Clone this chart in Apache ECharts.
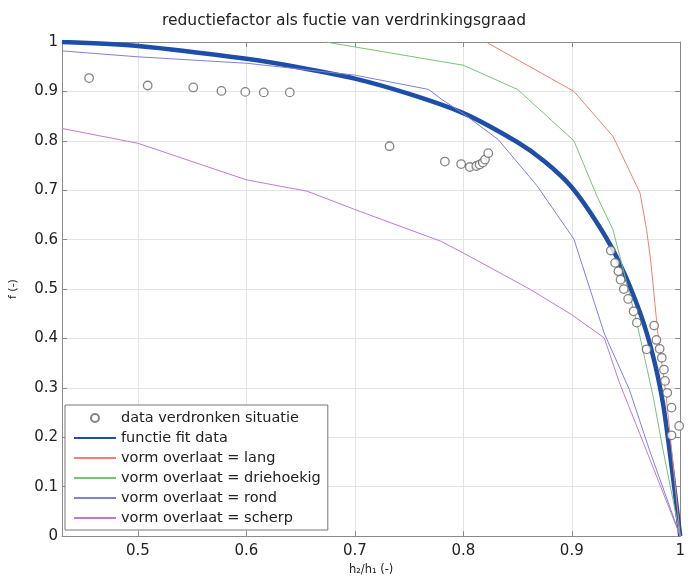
<!DOCTYPE html>
<html>
<head>
<meta charset="utf-8">
<script src="https://cdn.jsdelivr.net/npm/echarts@6/dist/echarts.min.js"></script>
<style>
  html, body { margin: 0; padding: 0; background: #fff; }
  #chart { width: 688px; height: 581px; }
</style>
</head>
<body>
<div id="chart"></div>
<script>
// Measured points: reduction factor f against submergence ratio h2/h1
const dataVerdronken = [
  [0.455, 0.927], [0.509, 0.912], [0.551, 0.908], [0.577, 0.901], [0.599, 0.899],
  [0.616, 0.898], [0.640, 0.898],
  [0.732, 0.789], [0.783, 0.758], [0.798, 0.753], [0.806, 0.747], [0.812, 0.749],
  [0.815, 0.752], [0.818, 0.756], [0.820, 0.762], [0.823, 0.775],
  [0.936, 0.578], [0.940, 0.553], [0.943, 0.536], [0.945, 0.519], [0.948, 0.500],
  [0.952, 0.480], [0.957, 0.455], [0.960, 0.432], [0.969, 0.378], [0.976, 0.426],
  [0.978, 0.397], [0.981, 0.379], [0.983, 0.361], [0.985, 0.337], [0.986, 0.314],
  [0.988, 0.290], [0.992, 0.260], [0.999, 0.223], [0.992, 0.204]
];

// Fitted curve through the measurements
const functieFit = [
  [0.43, 1.0], [0.5, 0.992], [0.6, 0.966], [0.65, 0.948], [0.7, 0.926], [0.75, 0.895],
  [0.8, 0.856], [0.85, 0.797], [0.875, 0.758], [0.9, 0.706], [0.925, 0.628], [0.944, 0.553],
  [0.963, 0.452], [0.975, 0.364], [0.984, 0.27], [0.99, 0.176], [0.995, 0.09], [1.0, 0.0]
];

// Weir shape curves
const vormLang = [
  [0.821, 1.0], [0.902, 0.900], [0.938, 0.809], [0.963, 0.694], [0.969, 0.620],
  [0.973, 0.553], [0.979, 0.418], [0.987, 0.283], [0.992, 0.176], [1.0, 0.0]
];
const vormDriehoekig = [
  [0.673, 1.0], [0.8, 0.953], [0.85, 0.904], [0.902, 0.800], [0.923, 0.689],
  [0.938, 0.620], [0.960, 0.432], [0.975, 0.283], [0.984, 0.176], [1.0, 0.0]
];
const vormRond = [
  [0.43, 0.982], [0.5, 0.970], [0.6, 0.957], [0.7, 0.933], [0.768, 0.904], [0.78, 0.884],
  [0.8, 0.855], [0.832, 0.803], [0.868, 0.709], [0.902, 0.601], [0.93, 0.41],
  [0.953, 0.297], [0.972, 0.172], [1.0, 0.0]
];
const vormScherp = [
  [0.43, 0.825], [0.5, 0.795], [0.6, 0.721], [0.656, 0.698], [0.7, 0.661], [0.779, 0.597],
  [0.8, 0.573], [0.862, 0.499], [0.9, 0.448], [0.93, 0.401], [0.944, 0.31],
  [0.966, 0.189], [1.0, 0.0]
];

const xTicks = [0.5, 0.6, 0.7, 0.8, 0.9, 1];
const xRange = [0.43, 1];

const seriesNames = [
  'data verdronken situatie',
  'functie fit data',
  'vorm overlaat = lang',
  'vorm overlaat = driehoekig',
  'vorm overlaat = rond',
  'vorm overlaat = scherp'
];

const FONT = 'DejaVu Sans';
const AXIS_COLOR = '#8a8a8a';
const TEXT_COLOR = '#222';

const chart = echarts.init(document.getElementById('chart'), null, { renderer: 'canvas' });

function lineSeries(name, data, color, width, smooth) {
  return {
    name: name,
    type: 'line',
    data: data,
    symbol: 'none',
    smooth: smooth || false,
    lineStyle: { color: color, width: width },
    itemStyle: { color: color },
    animation: false
  };
}

// Line entries in the legend show only the stroke, no marker
const legendData = seriesNames.map(function (name, i) {
  return i === 0 ? { name: name } : { name: name, itemStyle: { opacity: 0 } };
});

chart.setOption({
  animation: false,
  backgroundColor: '#fff',
  title: {
    text: 'reductiefactor als fuctie van verdrinkingsgraad',
    left: 'center',
    top: 13,
    padding: [0, 0, 0, 56],
    textStyle: { fontFamily: FONT, fontSize: 15.5, fontWeight: 'normal', color: TEXT_COLOR }
  },
  grid: { left: 59, right: 3, top: 42, bottom: 44, containLabel: false },
  xAxis: [
    {
      type: 'value',
      min: xRange[0],
      max: xRange[1],
      name: 'h\u2082/h\u2081 (-)',
      nameLocation: 'middle',
      nameGap: 27,
      nameTextStyle: { fontFamily: FONT, fontSize: 11.5, color: TEXT_COLOR },
      axisLine: { show: true, onZero: false, lineStyle: { color: AXIS_COLOR, width: 1 } },
      axisTick: { show: true, inside: true, length: 5, customValues: xTicks, lineStyle: { color: AXIS_COLOR } },
      axisLabel: { customValues: xTicks, margin: 8, fontFamily: FONT, fontSize: 15, color: TEXT_COLOR },
      splitLine: { show: true, lineStyle: { color: '#e4e4e4', width: 1 } }
    },
    {
      type: 'value',
      position: 'top',
      min: xRange[0],
      max: xRange[1],
      axisLine: { show: true, onZero: false, lineStyle: { color: AXIS_COLOR, width: 1 } },
      axisTick: { show: true, inside: true, length: 5, customValues: xTicks, lineStyle: { color: AXIS_COLOR } },
      axisLabel: { show: false },
      splitLine: { show: false }
    }
  ],
  yAxis: [
    {
      type: 'value',
      min: 0,
      max: 1,
      interval: 0.1,
      name: 'f (-)',
      nameLocation: 'middle',
      nameGap: 43,
      nameTextStyle: { fontFamily: FONT, fontSize: 11, color: TEXT_COLOR },
      axisLine: { show: true, onZero: false, lineStyle: { color: AXIS_COLOR, width: 1 } },
      axisTick: { show: true, inside: true, length: 5, lineStyle: { color: AXIS_COLOR } },
      axisLabel: { margin: 4, fontFamily: FONT, fontSize: 15, color: TEXT_COLOR },
      splitLine: { show: true, lineStyle: { color: '#e4e4e4', width: 1 } }
    },
    {
      type: 'value',
      position: 'right',
      min: 0,
      max: 1,
      interval: 0.1,
      axisLine: { show: true, onZero: false, lineStyle: { color: AXIS_COLOR, width: 1 } },
      axisTick: { show: true, inside: true, length: 5, lineStyle: { color: AXIS_COLOR } },
      axisLabel: { show: false },
      splitLine: { show: false }
    }
  ],
  legend: {
    orient: 'vertical',
    left: 65,
    top: 405,
    padding: [3, 7, 2, 8],
    itemWidth: 42,
    itemHeight: 8,
    itemGap: 0,
    backgroundColor: '#fff',
    borderColor: '#777',
    borderWidth: 1,
    borderRadius: 0,
    selectedMode: false,
    textStyle: { fontFamily: FONT, fontSize: 14.5, color: TEXT_COLOR, lineHeight: 20 },
    data: legendData
  },
  series: [
    {
      name: seriesNames[0],
      type: 'scatter',
      data: dataVerdronken,
      symbol: 'circle',
      symbolSize: 8.5,
      itemStyle: { color: '#fff', borderColor: '#666', borderWidth: 1.3 },
      z: 3
    },
    lineSeries(seriesNames[1], functieFit, '#1d4ea8', 4.5, 0.25),
    lineSeries(seriesNames[2], vormLang, '#f08070', 1),
    lineSeries(seriesNames[3], vormDriehoekig, '#78c278', 1),
    lineSeries(seriesNames[4], vormRond, '#7f80dc', 1),
    lineSeries(seriesNames[5], vormScherp, '#c07ad0', 1)
  ]
});
</script>
</body>
</html>
